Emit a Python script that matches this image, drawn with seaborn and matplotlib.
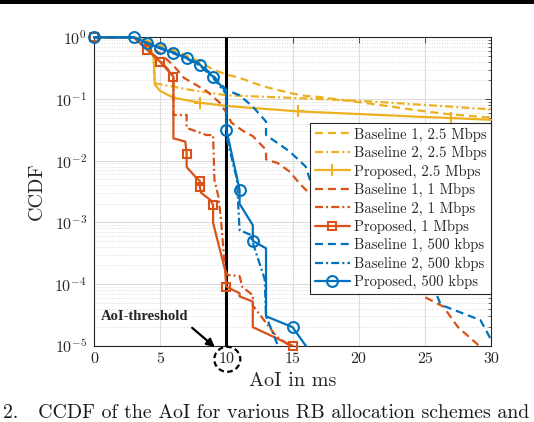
import numpy as np
import pandas as pd
import matplotlib
matplotlib.use("Agg")
import matplotlib.pyplot as plt
import seaborn as sns
from matplotlib.patches import Ellipse, Rectangle
from matplotlib.lines import Line2D

# ---------------- data ----------------
labels = ["Baseline 1, 2.5 Mbps", "Baseline 2, 2.5 Mbps", "Proposed, 2.5 Mbps",
          "Baseline 1, 1 Mbps", "Baseline 2, 1 Mbps", "Proposed, 1 Mbps",
          "Baseline 1, 500 kbps", "Baseline 2, 500 kbps", "Proposed, 500 kbps"]

b1_25_x = [0, 3, 4, 5, 6, 7, 8, 9, 10, 11, 12.8, 14.8, 16, 17, 20.7, 25, 27, 30]
b1_25_y = [1, 1, 0.88, 0.75, 0.62, 0.5, 0.4, 0.3, 0.25, 0.22, 0.16, 0.125, 0.112, 0.108, 0.085, 0.063, 0.056, 0.05]

b2_25_x = [0, 3, 4, 4.5, 4.6, 7.3, 10, 16, 21, 30]
b2_25_y = [1, 1, 0.9, 0.5, 0.18, 0.14, 0.115, 0.102, 0.091, 0.068]

p_25_x = [0, 3, 4, 4.5, 4.6, 5, 6, 8, 10, 15.4, 20, 25, 27, 30]
p_25_y = [1, 1, 0.85, 0.5, 0.17, 0.135, 0.105, 0.087, 0.077, 0.063, 0.057, 0.051, 0.049, 0.046]
p_25_marks = [7, 9, 12]

b1_1_x = [0, 3, 4, 5, 6, 6.8, 7.3, 8.5, 9.5, 10, 10.4, 11.3, 12, 13, 13, 13.9, 14.8, 15.4, 16.1,
          16.8, 20, 23, 24.9, 26.4, 27.5, 29.1]
b1_1_y = [1, 1, 0.75, 0.55, 0.35, 0.22, 0.19, 0.135, 0.087, 0.06, 0.041, 0.03, 0.025, 0.015, 0.0105,
          0.0091, 0.0066, 0.0046, 0.0032, 0.0022, 6e-4, 1.5e-4, 6.3e-5, 4.3e-5, 2e-5, 1e-5]

b2_1_x = [0, 3, 4, 5, 6, 6, 7, 7, 8.5, 9, 9.1, 9.4, 9.6, 9.9, 10.1, 11, 11.2, 12, 12, 13.8, 14.8]
b2_1_y = [1, 1, 0.65, 0.42, 0.24, 0.055, 0.055, 0.034, 0.026, 0.026, 0.0049, 0.0026, 0.0011, 0.00017,
          0.00014, 0.000135, 9e-5, 6.6e-5, 4.5e-5, 1.4e-5, 1e-5]

p_1_x = [0, 3, 4, 5, 6, 6, 6.9, 7, 7, 7.75, 8, 8, 8.1, 8.8, 9, 9, 9.9, 10, 11, 11, 12, 12, 15]
p_1_y = [1, 1, 0.63, 0.4, 0.23, 0.023, 0.0204, 0.013, 0.0079, 0.0052, 0.0047, 0.0037, 0.003, 0.0023,
         0.0019, 0.00098, 0.00017, 9e-5, 7.1e-5, 6.3e-5, 5.2e-5, 2e-5, 1e-5]
p_1_marks = [0, 2, 3, 4, 7, 10, 11, 14, 17, 22]

b1_500_x = [0, 3, 4, 5, 6, 7, 8, 9, 10, 11, 12, 13, 13, 14.8, 16, 16.3, 20, 23, 25.8, 26.2, 29.2, 30]
b1_500_y = [1, 1, 0.82, 0.68, 0.57, 0.47, 0.37, 0.24, 0.14, 0.115, 0.075, 0.043, 0.026, 0.014, 0.008,
            0.005, 0.0012, 3e-4, 7.6e-5, 4.6e-5, 2.6e-5, 1.26e-5]

b2_500_x = [0, 3, 4, 5, 6, 7, 8, 9, 10, 10, 10.8, 11, 11.8, 12.9, 13, 13.9]
b2_500_y = [1, 1, 0.8, 0.66, 0.55, 0.45, 0.35, 0.22, 0.12, 0.025, 0.005, 0.00075, 0.00063, 0.00012,
            3e-5, 1e-5]

p_500_x = [0, 3, 4, 5, 6, 7, 8, 9, 10, 10, 11, 11, 12, 12, 13, 13, 15, 16]
p_500_y = [1, 1, 0.81, 0.67, 0.56, 0.46, 0.36, 0.23, 0.13, 0.032, 0.0034, 0.002, 0.0009, 0.0005,
           0.00038, 3e-5, 2e-5, 1e-5]
p_500_marks = [0, 1, 2, 3, 4, 5, 6, 7, 9, 10, 13, 16]

threshold = 10
x_ticks = [0, 5, 10, 15, 20, 25, 30]

# ---------------- style ----------------
sns.set_theme(style="white")
plt.rcParams["font.family"] = ["cmr10", "DejaVu Serif"]
plt.rcParams["mathtext.fontset"] = "cm"
plt.rcParams["axes.formatter.use_mathtext"] = True
plt.rcParams["axes.unicode_minus"] = False

BLUE, ORANGE, YELLOW = "#0072BD", "#D95319", "#EDB120"
DASH = (0, (3.6, 2.2))
DASHDOT = (0, (3.6, 1.4, 0.9, 1.4))
LW = 1.6

series = [
    (b1_25_x, b1_25_y, YELLOW, DASH, None, None),
    (b2_25_x, b2_25_y, YELLOW, DASHDOT, None, None),
    (p_25_x, p_25_y, YELLOW, "-", "+", p_25_marks),
    (b1_1_x, b1_1_y, ORANGE, DASH, None, None),
    (b2_1_x, b2_1_y, ORANGE, DASHDOT, None, None),
    (p_1_x, p_1_y, ORANGE, "-", "s", p_1_marks),
    (b1_500_x, b1_500_y, BLUE, DASH, None, None),
    (b2_500_x, b2_500_y, BLUE, DASHDOT, None, None),
    (p_500_x, p_500_y, BLUE, "-", "o", p_500_marks),
]

fig = plt.figure(figsize=(5.34, 4.22), dpi=100)
ax = fig.add_axes([94 / 534, 1 - 345.7 / 422, 397 / 534, 308.4 / 422])

handles = []
for lab, (xs, ys, col, ls, mk, me) in zip(labels, series):
    df = pd.DataFrame({"x": xs, "y": ys})
    kw = dict(color=col, linestyle=ls, linewidth=LW, zorder=3, clip_on=False)
    hk = dict(color=col, linestyle=ls, linewidth=LW)
    if mk is not None:
        msize = {"o": 7.8, "s": 6, "+": 9}[mk]
        mkw = dict(marker=mk, markersize=msize, markerfacecolor="none",
                   markeredgecolor=col, markeredgewidth=1.5)
        kw.update(markevery=me, **mkw)
        hk.update(**mkw)
    sns.lineplot(data=df, x="x", y="y", sort=False, estimator=None, ax=ax, legend=False, **kw)
    handles.append(Line2D([], [], **hk))

ax.axvline(threshold, color="black", linewidth=2.2, zorder=2.5)

ax.set_yscale("log")
ax.set_xlim(0, 30)
ax.set_ylim(1e-5, 1)
ax.set_xticks(x_ticks)
ax.set_xticklabels([str(t) for t in x_ticks])
ax.set_yticks([1e-5, 1e-4, 1e-3, 1e-2, 1e-1, 1])
ax.yaxis.set_minor_locator(matplotlib.ticker.LogLocator(base=10, subs=np.arange(2, 10), numticks=20))
ax.yaxis.set_minor_formatter(matplotlib.ticker.NullFormatter())
ax.grid(True, which="major", color="#dcdcdc", linewidth=0.8, linestyle="-")
ax.grid(True, which="minor", axis="y", color="#d0d0d0", linewidth=0.6, linestyle=(0, (1, 2)))
ax.set_axisbelow(True)

ax.tick_params(which="both", direction="in", top=True, right=True, colors="#262626",
               labelsize=11.5, pad=5)
ax.tick_params(which="major", length=4, width=0.6)
ax.tick_params(which="minor", length=2.2, width=0.5)
for s in ax.spines.values():
    s.set_color("#262626")
    s.set_linewidth(0.8)

ax.set_xlabel("AoI in ms", fontsize=14.5, color="#262626", labelpad=4)
ax.set_ylabel("CCDF", fontsize=14.5, color="#262626", labelpad=6)

leg = ax.legend(handles, labels, loc="upper right", bbox_to_anchor=(1.0, 1 - (123 - 37.3) / 308.4),
                borderaxespad=0, fontsize=10.5, frameon=True, fancybox=False, framealpha=1,
                edgecolor="#262626", handlelength=2.4, handletextpad=0.3, labelspacing=0.29,
                borderpad=0.3)
leg.get_frame().set_linewidth(0.8)
leg.set_zorder(10)

# annotation: AoI-threshold
fig.text(145 / 534, (422 - 317) / 422, "AoI-threshold", fontsize=10.5, fontweight="bold",
         family="Liberation Serif", ha="center", va="center")
ax.annotate("", xy=(217, 422 - 349), xytext=(190, 422 - 326), xycoords="figure pixels",
            textcoords="figure pixels",
            arrowprops=dict(arrowstyle="-|>", color="black", lw=1.6, mutation_scale=12),
            annotation_clip=False)
fig.add_artist(Ellipse((227.3 / 534, (422 - 359.3) / 422), 26 / 534, 25 / 422,
                       transform=fig.transFigure, fill=False, edgecolor="black",
                       linewidth=1.6, linestyle=(0, (2.5, 1.5))))

# top black band and caption
fig.add_artist(Rectangle((0, 1 - 3.5 / 422), 1, 3.5 / 422, transform=fig.transFigure,
                         color="black", linewidth=0))
fig.text(0.006, (422 - 413) / 422, "2.   CCDF of the AoI for various RB allocation schemes and",
         fontsize=14.3, ha="left", va="center", color="#1a1a1a")

fig.savefig("out.png", dpi=100)
